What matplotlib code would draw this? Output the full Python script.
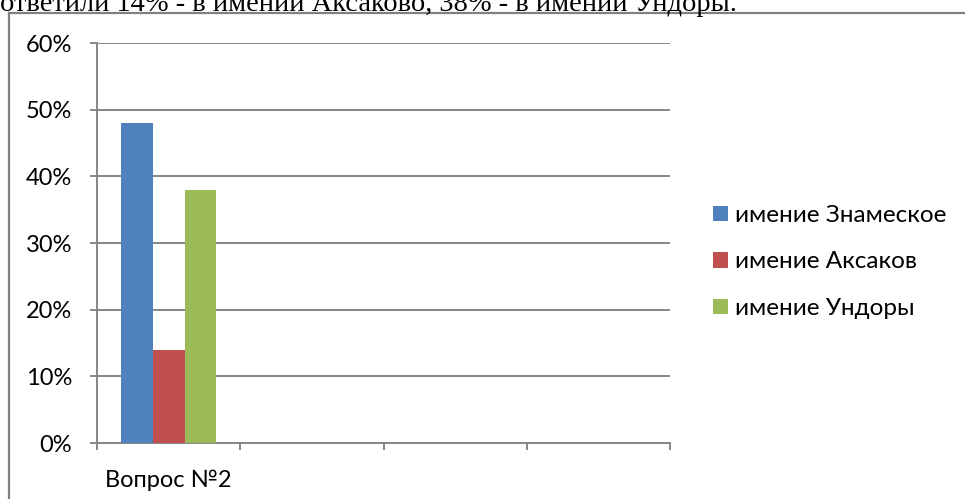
import numpy as np
import matplotlib
matplotlib.use("Agg")
import matplotlib.pyplot as plt
from matplotlib.patches import Patch
from matplotlib.lines import Line2D

categories = ["Вопрос №2", "", "", ""]
series_names = ["имение Знамеское", "имение Аксаков", "имение Ундоры"]
znameskoe = [48, np.nan, np.nan, np.nan]
aksakov = [14, np.nan, np.nan, np.nan]
undory = [38, np.nan, np.nan, np.nan]
y_ticks = [0, 10, 20, 30, 40, 50, 60]
colors = ["#4F81BD", "#C0504D", "#9BBB59"]
header_text = "ответили 14% - в имении Аксаково, 38% - в имении Ундоры."

W, H = 965, 499
fig = plt.figure(figsize=(W / 100, H / 100), dpi=100)
fig.patch.set_facecolor("white")

font = "Lato"
fs = 17
gray = "#868686"

ax = fig.add_axes([97 / W, (H - 443) / H, 573 / W, 400 / H])
x = np.arange(len(categories))
bw = 0.222
for i, (vals, c) in enumerate(zip([znameskoe, aksakov, undory], colors)):
    ax.bar(x + (i - 1) * bw, vals, width=bw, color=c, zorder=3, linewidth=0)

ax.set_xlim(-0.5, len(categories) - 0.5)
ax.set_ylim(0, 60)
ax.set_yticks(y_ticks)
ax.set_yticklabels([f"{v}%" for v in y_ticks], fontfamily=font, fontsize=fs)
ax.yaxis.grid(True, color=gray, linewidth=1.4, zorder=0)
ax.set_xticks(np.arange(-0.5, len(categories)))
ax.set_xticklabels([])
ax.set_xticks(x, minor=True)
ax.set_xticklabels(categories, minor=True, fontfamily=font, fontsize=fs)
ax.tick_params(axis="x", which="minor", length=0, pad=19)
ax.tick_params(axis="x", which="major", length=5, width=1.4, color=gray, direction="out")
ax.tick_params(axis="y", length=5, width=1.4, color=gray, pad=13)
for s in ["top", "right"]:
    ax.spines[s].set_visible(False)
for s in ["left", "bottom"]:
    ax.spines[s].set_color(gray)
    ax.spines[s].set_linewidth(1.4)

handles = [Patch(facecolor=c, edgecolor="none") for c in colors]
fig.legend(handles, series_names, loc="center left",
           bbox_to_anchor=(713 / W, (H - 262) / H), frameon=False, borderpad=0,
           borderaxespad=0,
           prop={"family": font, "size": 17.5}, handlelength=0.62, handleheight=0.62,
           handletextpad=0.3, labelspacing=1.05)

# outer frame
fig.add_artist(Line2D([9 / W, 9 / W], [0, (H - 13) / H], color="#808080", linewidth=1.6))
fig.add_artist(Line2D([9 / W, 1], [(H - 13) / H, (H - 13) / H], color="#808080", linewidth=1.6))

fig.text(0, (H - 11) / H, header_text, fontfamily="Liberation Serif", fontsize=20.5,
         ha="left", va="baseline")

fig.savefig("out.png", dpi=100)
